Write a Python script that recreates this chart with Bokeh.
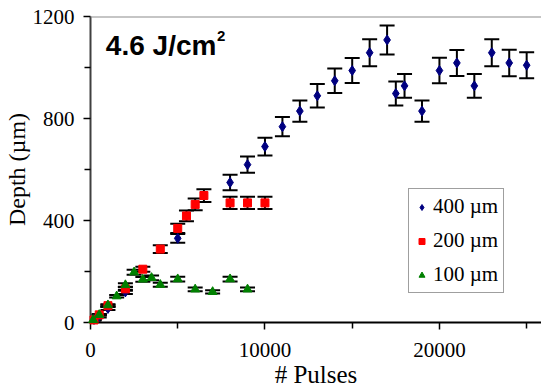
from bokeh.plotting import figure
from bokeh.models import (Range1d, FixedTicker, ColumnDataSource, Whisker, TeeHead,
                          Legend, LegendItem, Label, Span)
from bokeh.embed import file_html
from bokeh.resources import INLINE

# ---- data ----
blue_x = [200, 500, 1000, 2000, 5000, 8000, 9000, 10000, 11000, 12000, 13000, 14000,
          15000, 16000, 17000, 17500, 18000, 19000, 20000, 21000, 22000, 23000, 24000, 25000]
blue_y = [12, 25, 55, 120, 330, 549, 619, 690, 768, 829, 889, 948,
          988, 1058, 1108, 898, 928, 829, 988, 1018, 928, 1058, 1018, 1009]
blue_err = [3, 5, 6, 8, 17, 30, 32, 35, 38, 42, 46, 48,
            49, 53, 57, 47, 47, 42, 50, 51, 47, 53, 52, 51]

red_x = [200, 500, 1000, 2000, 3000, 4000, 5000, 5500, 6000, 6500, 8000, 9000, 10000]
red_y = [10, 30, 66, 132, 209, 288, 369, 418, 463, 498, 469, 469, 469]
red_err = [2, 3, 4, 7, 10, 15, 18, 21, 23, 25, 24, 24, 24]

green_x = [150, 500, 1000, 1500, 2000, 2500, 3000, 3500, 4000, 5000, 6000, 7000, 8000, 9000]
green_y = [10, 30, 68, 103, 147, 197, 169, 175, 148, 170, 130, 120, 170, 130]
green_err = [1, 2, 4, 5, 7, 10, 9, 9, 8, 9, 7, 6, 9, 7]

series_labels = ["400 \u00b5m", "200 \u00b5m", "100 \u00b5m"]
x_ticks = [0, 10000, 20000]
x_minor = [5000, 15000, 25000]
y_ticks = [0, 400, 800, 1200]
y_minor = [200, 600, 1000]

SERIF = "Liberation Serif"
SANS = "Liberation Sans"

p = figure(width=541, height=390, x_range=Range1d(0, 25850), y_range=Range1d(0, 1200),
           output_backend="svg", toolbar_location=None,
           min_border_left=90, min_border_right=0, min_border_top=16, min_border_bottom=67)
p.outline_line_color = None
p.xgrid.visible = False
p.ygrid.visible = False
p.background_fill_color = "white"
p.border_fill_color = "white"

# top gray border
p.add_layout(Span(location=1200, dimension="width", line_color="#8c8c8c", line_width=2))

xa = p.xaxis[0]
xa.ticker = FixedTicker(ticks=x_ticks, minor_ticks=x_minor)
xa.axis_line_color = "black"
xa.axis_line_width = 2
xa.major_tick_line_color = "black"
xa.major_tick_line_width = 1.5
xa.minor_tick_line_color = "black"
xa.minor_tick_line_width = 1.5
xa.major_tick_in = 0
xa.major_tick_out = 7
xa.minor_tick_in = 0
xa.minor_tick_out = 6
xa.major_label_text_font = SERIF
xa.major_label_text_font_size = "21px"
xa.major_label_text_color = "black"
xa.major_label_standoff = 13
xa.axis_label = "# Pulses"
xa.axis_label_text_font = SERIF
xa.axis_label_text_font_size = "25px"
xa.axis_label_text_font_style = "normal"
xa.axis_label_text_color = "black"
xa.axis_label_standoff = 1

ya = p.yaxis[0]
ya.ticker = FixedTicker(ticks=y_ticks, minor_ticks=y_minor)
ya.axis_line_color = "#404040"
ya.axis_line_width = 2
ya.major_tick_line_color = "black"
ya.major_tick_line_width = 1.5
ya.minor_tick_line_color = "black"
ya.minor_tick_line_width = 1.5
ya.major_tick_in = 0
ya.major_tick_out = 7
ya.minor_tick_in = 0
ya.minor_tick_out = 6
ya.major_label_text_font = SERIF
ya.major_label_text_font_size = "21px"
ya.major_label_text_color = "black"
ya.major_label_standoff = 9
ya.axis_label = "Depth (\u00b5m)"
ya.axis_label_text_font = SERIF
ya.axis_label_text_font_size = "24px"
ya.axis_label_text_font_style = "normal"
ya.axis_label_text_color = "black"
ya.axis_label_standoff = 0

def add_series(xs, ys, errs, marker, size, color, cap):
    src = ColumnDataSource(dict(x=xs, y=ys,
                                upper=[a + b for a, b in zip(ys, errs)],
                                lower=[a - b for a, b in zip(ys, errs)]))
    w = Whisker(source=src, base="x", upper="upper", lower="lower", dimension="height",
                line_color="black", line_width=2, level="glyph",
                upper_head=TeeHead(size=cap, line_width=2, line_color="black"),
                lower_head=TeeHead(size=cap, line_width=2, line_color="black"))
    p.add_layout(w)
    r = p.scatter("x", "y", source=src, marker=marker, size=size,
                  fill_color=color, line_color=color, level="overlay")
    return r

r_blue = add_series(blue_x, blue_y, blue_err, "diamond", 10, "#000080", 15)
r_red = add_series(red_x, red_y, red_err, "square", 8, "#ff0000", 15)
r_green = add_series(green_x, green_y, green_err, "triangle", 9, "#008000", 15)

legend = Legend(items=[LegendItem(label=series_labels[0], renderers=[r_blue]),
                       LegendItem(label=series_labels[1], renderers=[r_red]),
                       LegendItem(label=series_labels[2], renderers=[r_green])],
                location=(318, 29), orientation="vertical",
                label_text_font=SERIF, label_text_font_size="21px",
                label_text_color="black", label_standoff=4,
                glyph_width=15, glyph_height=20, label_height=20,
                spacing=9, padding=5, margin=0,
                border_line_color="#404040", border_line_width=1.5,
                background_fill_color="white", background_fill_alpha=1.0)
p.add_layout(legend, "center")

p.add_layout(Label(x=880, y=1085, text="4.6 J/cm", text_font=SANS, text_font_size="28px",
                   text_font_style="bold", text_color="black", text_baseline="alphabetic"))
p.add_layout(Label(x=7250, y=1125, text="2", text_font=SANS, text_font_size="15px",
                   text_font_style="bold", text_color="black", text_baseline="alphabetic"))

open("out.html", "w").write(file_html(p, INLINE))
